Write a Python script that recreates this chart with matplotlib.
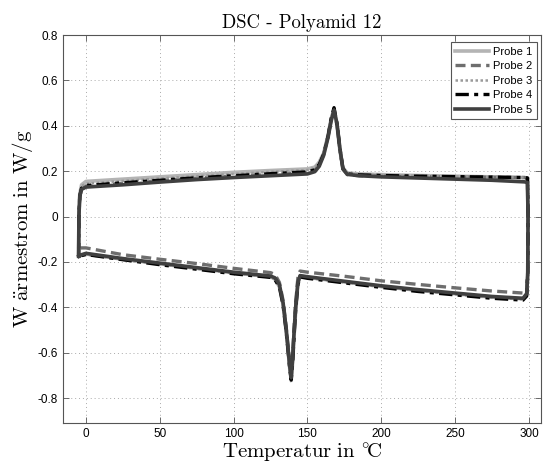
import matplotlib
matplotlib.use("Agg")
import matplotlib.pyplot as plt
from matplotlib.ticker import FuncFormatter

# ---------------- data ----------------
T_heat = [-5.0, -4.8, -4.2, -3.0, 0, 25, 50, 75, 100, 125, 150, 155, 158, 161, 164,
          166, 168, 170, 172, 174, 177, 185, 200, 225, 250, 275, 297, 299.0]
T_right = [299.4, 299.2, 298.5, 296]
T_cool = [275, 250, 225, 200, 175, 150, 145, 143.5, 142, 141, 140, 139, 138, 137,
          135.5, 133.5, 131, 128, 125, 100, 75, 50, 25, 0, -3, -4.8]

labels = ["Probe 1", "Probe 2", "Probe 3", "Probe 4", "Probe 5"]

p1_heat = [-0.17, 0.0, 0.10, 0.14, 0.155, 0.165, 0.175, 0.185, 0.195, 0.203, 0.21, 0.218,
           0.24, 0.28, 0.36, 0.43, 0.475, 0.40, 0.29, 0.215, 0.192, 0.188, 0.185, 0.181,
           0.178, 0.175, 0.172, 0.170]
p1_right = [0.0, -0.25, -0.34, -0.362]
p1_cool = [-0.355, -0.34, -0.325, -0.308, -0.288, -0.268, -0.262, -0.30, -0.42, -0.52,
           -0.64, -0.72, -0.67, -0.60, -0.50, -0.39, -0.31, -0.275, -0.265, -0.248, -0.228,
           -0.208, -0.188, -0.165, -0.17, -0.175]

p2_heat = [-0.14, 0.0, 0.09, 0.12, 0.135, 0.147, 0.158, 0.169, 0.178, 0.186, 0.194, 0.203,
           0.228, 0.275, 0.355, 0.425, 0.465, 0.405, 0.295, 0.21, 0.185, 0.18, 0.178, 0.176,
           0.175, 0.173, 0.172, 0.170]
p2_right = [0.0, -0.24, -0.32, -0.337]
p2_cool = [-0.328, -0.314, -0.299, -0.283, -0.263, -0.245, -0.240, -0.27, -0.38, -0.48,
           -0.60, -0.69, -0.65, -0.58, -0.48, -0.37, -0.29, -0.255, -0.247, -0.228, -0.207,
           -0.188, -0.168, -0.138, -0.138, -0.14]

p3_heat = [-0.17, 0.0, 0.10, 0.135, 0.145, 0.157, 0.168, 0.178, 0.188, 0.197, 0.205, 0.214,
           0.236, 0.28, 0.36, 0.43, 0.48, 0.41, 0.30, 0.215, 0.19, 0.186, 0.183, 0.180,
           0.177, 0.175, 0.172, 0.170]
p3_right = [0.0, -0.25, -0.35, -0.365]
p3_cool = [-0.358, -0.343, -0.327, -0.31, -0.29, -0.27, -0.264, -0.30, -0.42, -0.53,
           -0.65, -0.73, -0.68, -0.61, -0.51, -0.39, -0.31, -0.277, -0.267, -0.25, -0.23,
           -0.21, -0.19, -0.167, -0.172, -0.178]

p4_heat = [-0.175, 0.0, 0.09, 0.125, 0.137, 0.149, 0.16, 0.171, 0.18, 0.189, 0.197, 0.206,
           0.23, 0.275, 0.355, 0.43, 0.48, 0.41, 0.30, 0.212, 0.188, 0.184, 0.181, 0.178,
           0.176, 0.174, 0.172, 0.170]
p4_right = [0.0, -0.25, -0.35, -0.368]
p4_cool = [-0.36, -0.345, -0.33, -0.312, -0.292, -0.272, -0.266, -0.30, -0.41, -0.52,
           -0.64, -0.72, -0.67, -0.60, -0.50, -0.39, -0.31, -0.278, -0.268, -0.252, -0.232,
           -0.212, -0.19, -0.167, -0.172, -0.178]

p5_heat = [-0.175, 0.0, 0.09, 0.12, 0.13, 0.14, 0.152, 0.163, 0.172, 0.180, 0.188, 0.198,
           0.222, 0.27, 0.35, 0.42, 0.47, 0.41, 0.30, 0.21, 0.186, 0.18, 0.175, 0.170,
           0.165, 0.160, 0.153, 0.150]
p5_right = [0.0, -0.25, -0.34, -0.36]
p5_cool = [-0.352, -0.337, -0.322, -0.305, -0.285, -0.265, -0.260, -0.29, -0.40, -0.50,
           -0.62, -0.71, -0.66, -0.59, -0.49, -0.38, -0.30, -0.27, -0.262, -0.245, -0.225,
           -0.205, -0.185, -0.162, -0.168, -0.175]

x_ticks = [0, 50, 100, 150, 200, 250, 300]
y_ticks = [-0.8, -0.6, -0.4, -0.2, 0, 0.2, 0.4, 0.6, 0.8]

# ---------------- plot ----------------
plt.rcParams['mathtext.fontset'] = 'cm'
plt.rcParams['axes.unicode_minus'] = False
plt.rcParams['font.family'] = ['Liberation Sans', 'DejaVu Sans']

fig = plt.figure(figsize=(5.44, 4.67), dpi=100)
ax = fig.add_axes([0.116, 0.094, 0.878, 0.831])

styles = [
    dict(color='#b4b4b4', ls='-', lw=2.6),
    dict(color='#6e6e6e', ls=(0, (3, 1.6)), lw=2.4),
    dict(color='#9a9a9a', ls=(0, (1, 1)), lw=1.8),
    dict(color='#000000', ls=(0, (4, 1.6, 1.2, 1.6)), lw=2.4),
    dict(color='#404040', ls='-', lw=2.6),
]

T_all = T_heat + T_right + T_cool
series = [p1_heat + p1_right + p1_cool,
          p2_heat + p2_right + p2_cool,
          p3_heat + p3_right + p3_cool,
          p4_heat + p4_right + p4_cool,
          p5_heat + p5_right + p5_cool]

for lab, vals, st in zip(labels, series, styles):
    ax.plot(T_all, vals, label=lab, **st)

ax.set_xlim(-15.5, 308)
ax.set_ylim(-0.91, 0.8)
ax.set_xticks(x_ticks)
ax.set_yticks(y_ticks)
ax.yaxis.set_major_formatter(FuncFormatter(lambda v, p: ('%g' % round(v, 2))))
ax.tick_params(direction='in', top=True, right=True, labelsize=8.5, length=4,
               color='#555555', width=0.6)
for s in ax.spines.values():
    s.set_color('#555555')
    s.set_linewidth(0.8)
ax.grid(True, ls=(0, (1, 3)), color='#aaaaaa', lw=0.7)

ax.set_title('DSC - Polyamid 12', fontsize=13.5, pad=5, family='cmr10')
ax.set_xlabel(r'$\mathrm{Temperatur\ in\ {}^{\circ}\!C}$', fontsize=15, labelpad=1)
ax.set_ylabel(r'$\mathrm{W\ \ddot{a}rmestrom\ in\ W/g}$', fontsize=15, labelpad=2)

leg = ax.legend(loc='upper right', fontsize=8, fancybox=False, framealpha=1,
                edgecolor='#555555', handlelength=3.0, borderaxespad=0.0,
                labelspacing=0.4, handletextpad=0.4, borderpad=0.4,
                bbox_to_anchor=(0.992, 0.981))
leg.get_frame().set_linewidth(0.8)

fig.savefig('out.png', dpi=100)
